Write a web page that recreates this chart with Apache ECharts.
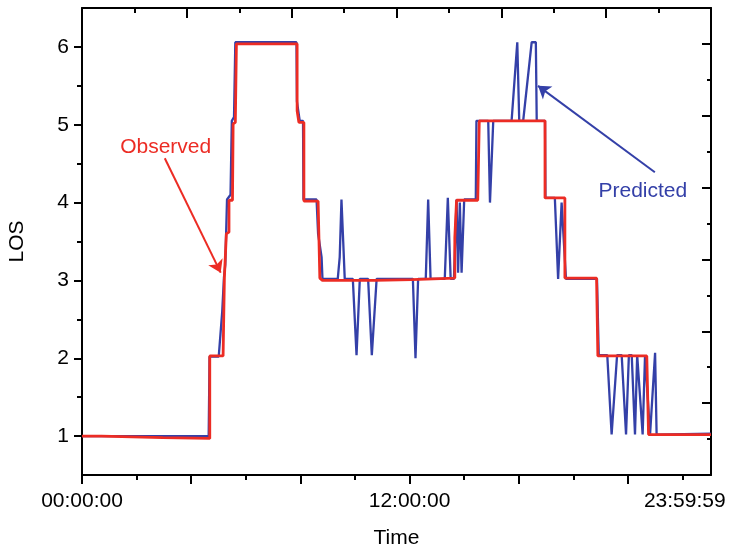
<!DOCTYPE html>
<html>
<head>
<meta charset="utf-8">
<title>LOS over the day</title>
<script src="https://cdn.jsdelivr.net/npm/echarts@6/dist/echarts.min.js"></script>
<style>
  html, body { margin: 0; padding: 0; background: #fff; }
  #chart { width: 732px; height: 550px; }
</style>
</head>
<body>
<div id="chart"></div>
<script>
// x = 5-minute interval index over the day (0 .. 288), y = level of service
const predicted = [
  [0, 1.0], [58.0, 1.0], [58.4, 2.02], [62.6, 2.02], [64.2, 2.6], [65.0, 3.04], [65.6, 3.2],
  [66.4, 4.04], [68.0, 4.1], [68.6, 5.05], [69.6, 5.1], [70.2, 6.06], [98.2, 6.06], [98.4, 5.3],
  [99.7, 5.05], [101.2, 5.05], [101.4, 4.04], [107.4, 4.04], [108.1, 3.6], [109.7, 3.3], [110.1, 3.02],
  [117.1, 3.02], [118.0, 3.3], [118.8, 4.04], [119.6, 3.5], [120.3, 3.02],
  [124.0, 3.02], [125.7, 2.04], [127.2, 3.02],
  [131.0, 3.02], [132.7, 2.04], [134.9, 3.02],
  [151.5, 3.02], [152.7, 2.0], [153.9, 3.02],
  [157.4, 3.02], [158.5, 4.04], [159.6, 3.02],
  [166.1, 3.02], [167.5, 4.06], [168.8, 3.02],
  [170.3, 3.02], [171.5, 4.04], [172.2, 3.1], [173.0, 4.0], [173.8, 3.1], [175.0, 4.04],
  [180.3, 4.04], [180.6, 5.05],
  [186.0, 5.05], [186.8, 4.0], [188.3, 5.05],
  [196.7, 5.05], [199.3, 6.06], [200.2, 5.05],
  [202.0, 5.05], [205.9, 6.06], [207.8, 6.06], [208.2, 5.05],
  [212.0, 5.05], [212.2, 4.06],
  [216.5, 4.06], [218.0, 3.02], [219.6, 4.0], [220.3, 4.0], [221.6, 3.02],
  [235.8, 3.02], [236.6, 2.04],
  [240.5, 2.04], [242.5, 1.02], [245.0, 2.04], [247.1, 2.04], [249.1, 1.02], [250.4, 2.04],
  [251.7, 2.04], [253.2, 1.02], [254.2, 2.04], [254.7, 2.04], [256.7, 1.02], [257.8, 2.04],
  [258.2, 2.04], [260.1, 1.02], [262.4, 2.07], [263.1, 1.02], [288, 1.03]
];

const observed = [
  [0, 1.0], [8.9, 1.0], [8.9, 0.98], [37, 0.98], [37, 0.97], [58.5, 0.97], [58.5, 2.03],
  [64.6, 2.03], [65.2, 3.04], [65.8, 3.04], [66.1, 3.6], [67.3, 3.62], [67.3, 4.03], [68.9, 4.03],
  [69.2, 5.01], [70.2, 5.03], [70.7, 6.04], [98.5, 6.04], [98.5, 5.18], [99.3, 5.03], [101.6, 5.03],
  [101.6, 4.02], [108.1, 4.02], [108.9, 3.03], [110.1, 3.0], [134, 3.0], [134, 3.01], [151, 3.01],
  [151, 3.03], [170.7, 3.03], [170.7, 3.55], [171.5, 3.55], [171.5, 4.03], [181.2, 4.03],
  [181.9, 5.05], [212.0, 5.05], [212.0, 4.06], [221.1, 4.06], [221.1, 3.03], [235.6, 3.03],
  [236.2, 2.03], [258.6, 2.03], [259.4, 1.02], [288, 1.02]
];

const timeLabelAt = [0, 150, 276];
const timeLabelText = ['00:00:00', '12:00:00', '23:59:59'];
const losLabels = [1, 2, 3, 4, 5, 6];

const RED = '#ec2c24';
const BLUE = '#3440a8';
const FONT = '"Liberation Sans", Arial, Helvetica, sans-serif';
const BLACK = '#000';

const tick = (len, inside, values) => ({
  show: true, inside: inside, length: len, customValues: values,
  lineStyle: { color: BLACK, width: 2 }
});
const line = { show: true, onZero: false, lineStyle: { color: BLACK, width: 2 } };
const noLine = { show: false, onZero: false };
const noLabel = { show: false };
const noSplit = { show: false };

const bottomMajor = [0, 50, 100, 150, 200, 250];
const bottomMinor = [25, 75, 125, 175, 225, 275];
const topMajor = [48, 96, 144, 192, 240];
const topMinor = [24, 72, 120, 168, 216, 264];
const leftMinor = [1.5, 2.5, 3.5, 4.5, 5.5];
const rightMajor = [1, 2, 3, 4, 5, 6];
const rightMinor = [0.5, 1.5, 2.5, 3.5, 4.5, 5.5];

// fixed plot box; outer-bounds shrinking is switched off so the frame stays put
const gridBox = { left: 82, right: 21, top: 8, bottom: 75, containLabel: false, outerBoundsMode: 'none' };

const chart = echarts.init(document.getElementById('chart'), null, { renderer: 'canvas' });

chart.setOption({
  animation: false,
  backgroundColor: '#fff',
  textStyle: { fontFamily: FONT },
  grid: [Object.assign({}, gridBox), Object.assign({}, gridBox)],
  xAxis: [
    {
      gridIndex: 0, type: 'value', position: 'bottom', min: 0, max: 288, interval: 50,
      axisLine: line, axisTick: tick(9, false, bottomMajor), splitLine: noSplit,
      axisLabel: {
        show: true, customValues: timeLabelAt, margin: 16, color: BLACK,
        fontSize: 21, fontFamily: FONT,
        formatter: v => timeLabelText[timeLabelAt.indexOf(v)] || ''
      },
      name: 'Time', nameLocation: 'middle', nameGap: 53,
      nameTextStyle: { color: BLACK, fontSize: 21, fontFamily: FONT }
    },
    {
      gridIndex: 0, type: 'value', position: 'top', min: 0, max: 288, interval: 48,
      axisLine: line, axisTick: tick(10, true, topMajor), axisLabel: noLabel, splitLine: noSplit
    },
    {
      gridIndex: 1, type: 'value', position: 'bottom', min: 0, max: 288, interval: 50,
      axisLine: noLine, axisTick: tick(5, false, bottomMinor), axisLabel: noLabel, splitLine: noSplit
    },
    {
      gridIndex: 1, type: 'value', position: 'top', min: 0, max: 288, interval: 48,
      axisLine: noLine, axisTick: tick(5, true, topMinor), axisLabel: noLabel, splitLine: noSplit
    }
  ],
  yAxis: [
    {
      gridIndex: 0, type: 'value', position: 'left', min: 0.5, max: 6.5, interval: 0.5,
      axisLine: line, axisTick: tick(8, false, losLabels), splitLine: noSplit,
      axisLabel: {
        show: true, customValues: losLabels, margin: 13, color: BLACK,
        fontSize: 21, fontFamily: FONT
      },
      name: 'LOS', nameLocation: 'middle', nameGap: 54, nameRotate: 90,
      nameTextStyle: { color: BLACK, fontSize: 21, fontFamily: FONT }
    },
    {
      gridIndex: 0, type: 'value', position: 'right', min: 0, max: 6.5, interval: 0.5,
      axisLine: line, axisTick: tick(9, true, rightMajor), axisLabel: noLabel, splitLine: noSplit
    },
    {
      gridIndex: 1, type: 'value', position: 'left', min: 0.5, max: 6.5, interval: 0.5,
      axisLine: noLine, axisTick: tick(5, false, leftMinor), axisLabel: noLabel, splitLine: noSplit
    },
    {
      gridIndex: 1, type: 'value', position: 'right', min: 0, max: 6.5, interval: 0.5,
      axisLine: noLine, axisTick: tick(4, true, rightMinor), axisLabel: noLabel, splitLine: noSplit
    }
  ],
  series: [
    {
      name: 'Predicted', type: 'line', xAxisIndex: 0, yAxisIndex: 0,
      data: predicted, symbol: 'none', showSymbol: false, z: 2,
      lineStyle: { color: BLUE, width: 2.3 },
      markLine: {
        silent: true, symbol: ['none', 'arrow'], symbolSize: 12, animation: false,
        label: { show: false },
        lineStyle: { color: BLUE, width: 2, type: 'solid' },
        data: [[{ coord: [262.3, 4.39] }, { coord: [208.8, 5.5] }]]
      },
      markPoint: {
        silent: true, symbol: 'circle', symbolSize: 0, animation: false,
        label: { show: true, position: 'inside', color: BLUE, fontSize: 21, fontFamily: FONT },
        data: [{ coord: [256.8, 4.15], value: 'Predicted', label: { formatter: 'Predicted' } }]
      }
    },
    {
      name: 'Observed', type: 'line', xAxisIndex: 0, yAxisIndex: 0,
      data: observed, symbol: 'none', showSymbol: false, z: 3,
      lineStyle: { color: RED, width: 2.8 },
      markLine: {
        silent: true, symbol: ['none', 'arrow'], symbolSize: 12, animation: false,
        label: { show: false },
        lineStyle: { color: RED, width: 2, type: 'solid' },
        data: [[{ coord: [37.9, 4.57] }, { coord: [63.5, 3.1] }]]
      },
      markPoint: {
        silent: true, symbol: 'circle', symbolSize: 0, animation: false,
        label: { show: true, position: 'inside', color: RED, fontSize: 21, fontFamily: FONT },
        data: [{ coord: [38.3, 4.71], value: 'Observed', label: { formatter: 'Observed' } }]
      }
    }
  ]
});
</script>
</body>
</html>
